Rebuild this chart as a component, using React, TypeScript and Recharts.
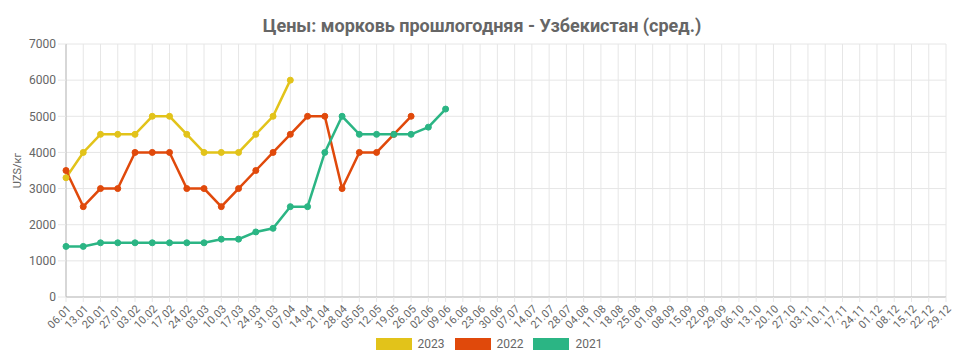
import React from 'react';
import { LineChart, Line, XAxis, YAxis, CartesianGrid, Label } from 'recharts';

const weeks = ['06.01','13.01','20.01','27.01','03.02','10.02','17.02','24.02','03.03','10.03','17.03','24.03','31.03','07.04','14.04','21.04','28.04','05.05','12.05','19.05','26.05','02.06','09.06','16.06','23.06','30.06','07.07','14.07','21.07','28.07','04.08','11.08','18.08','25.08','01.09','08.09','15.09','22.09','29.09','06.10','13.10','20.10','27.10','03.11','10.11','17.11','24.11','01.12','08.12','15.12','22.12','29.12'];

const values2023 = [3300,4000,4500,4500,4500,5000,5000,4500,4000,4000,4000,4500,5000,6000];
const values2022 = [3500,2500,3000,3000,4000,4000,4000,3000,3000,2500,3000,3500,4000,4500,5000,5000,3000,4000,4000,4500,5000];
const values2021 = [1400,1400,1500,1500,1500,1500,1500,1500,1500,1600,1600,1800,1900,2500,2500,4000,5000,4500,4500,4500,4500,4700,5200];

const yTicks = [0,1000,2000,3000,4000,5000,6000,7000];

const series = [
  { key: 'y2023', name: '2023', color: '#e2c31a', values: values2023 },
  { key: 'y2022', name: '2022', color: '#e0490b', values: values2022 },
  { key: 'y2021', name: '2021', color: '#2bb584', values: values2021 },
];

const data = weeks.map((w, i) => {
  const row: any = { week: w };
  series.forEach(s => { row[s.key] = i < s.values.length ? s.values[i] : null; });
  return row;
});

const FONT = 'Roboto, "Noto Sans", sans-serif';
const TEXT = '#666';

const XTick = (props: any) => {
  const { x, y, payload } = props;
  return (
    <g transform={`translate(${x},${y})`}>
      <text x={0} y={0} dy={8} textAnchor="end" transform="rotate(-45)" fill={TEXT} fontSize={11} fontFamily={FONT}>
        {payload.value}
      </text>
    </g>
  );
};

export default function App() {
  return (
    <div style={{ position: 'relative', width: 962, height: 356, fontFamily: FONT }}>
      <div style={{ position: 'absolute', top: 7, left: -7, width: 962, textAlign: 'center', fontSize: 18, fontWeight: 700, color: TEXT }}>
        Цены: морковь прошлогодняя - Узбекистан (сред.)
      </div>
      <LineChart width={962} height={356} data={data} margin={{ top: 36, right: 24, left: 0, bottom: 0 }}>
        <CartesianGrid stroke="#e6e6e6" vertical horizontal />
        <XAxis
          dataKey="week"
          interval={0}
          height={67}
          tick={<XTick />}
          tickSize={5}
          tickLine={{ stroke: '#e6e6e6' }}
          axisLine={{ stroke: '#bbb' }}
        />
        <YAxis
          width={58}
          domain={[0, 7000]}
          ticks={yTicks}
          interval={0}
          tickSize={8}
          tickLine={{ stroke: '#e6e6e6' }}
          axisLine={{ stroke: '#bbb' }}
          tick={{ fill: TEXT, fontSize: 12, fontFamily: FONT }}
        >
          <Label
            content={(p: any) => {
              const vb = p.viewBox || { x: 0, y: 36, width: 58, height: 253 };
              const cx = 10;
              const cy = vb.y + vb.height / 2;
              return (
                <text x={cx} y={cy} transform={`rotate(-90 ${cx} ${cy})`} textAnchor="middle" dominantBaseline="middle" fill={TEXT} fontSize={11} fontFamily={FONT}>
                  UZS/кг
                </text>
              );
            }}
          />
        </YAxis>
        {series.map(s => (
          <Line
            key={s.key}
            type="linear"
            dataKey={s.key}
            name={s.name}
            stroke={s.color}
            strokeWidth={2.5}
            dot={{ r: 3, fill: s.color, stroke: s.color, strokeWidth: 1 }}
            activeDot={false}
            connectNulls={false}
            isAnimationActive={false}
          />
        ))}
      </LineChart>
      <div style={{ position: 'absolute', top: 329, left: 0, width: 962, display: 'flex', justifyContent: 'center', fontSize: 12, color: TEXT }}>
        {series.map(s => (
          <div key={s.key} style={{ display: 'flex', alignItems: 'center', margin: '0 5px' }}>
            <span style={{ display: 'inline-block', width: 36, height: 12, background: s.color, marginRight: 6 }} />
            <span>{s.name}</span>
          </div>
        ))}
      </div>
    </div>
  );
}
